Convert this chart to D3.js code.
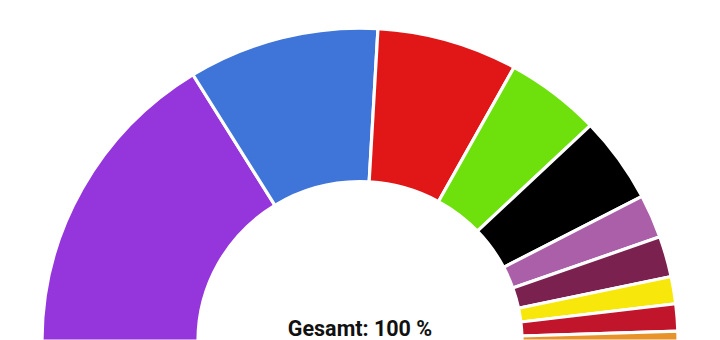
<!DOCTYPE html>
<html>
<head>
<meta charset="utf-8">
<script src="https://cdn.jsdelivr.net/npm/d3@7"></script>
<style>
  html, body { margin: 0; padding: 0; background: #fff; }
  svg { display: block; }
</style>
</head>
<body>
<svg id="chart" width="720" height="340"></svg>
<script>
// Data (shares in %)
const categories = ["Partei 1", "Partei 2", "Partei 3", "Partei 4", "Partei 5",
                    "Partei 6", "Partei 7", "Partei 8", "Partei 9", "Sonstige"];
const values = [32.4, 19.4, 14.3, 9.7, 8.9, 4.5, 4.2, 2.8, 2.8, 1.0];
const colors = ["#9535dc", "#3f74d9", "#e11616", "#6ee00c", "#000000",
                "#ab5fa8", "#7b2150", "#f7e70a", "#c0152a", "#e8932a"];
const totalLabel = "Gesamt: 100 %";

const W = 720, H = 340;
const cx = 360, cy = 341;
const outerR = 318, innerR = 162;
const yScale = 0.984;

const svg = d3.select("#chart");

const data = categories.map((c, i) => ({ name: c, value: values[i], color: colors[i] }));

const pie = d3.pie()
  .sort(null)
  .value(d => d.value)
  .startAngle(-Math.PI / 2)
  .endAngle(Math.PI / 2);

const arc = d3.arc()
  .innerRadius(innerR)
  .outerRadius(outerR);

const g = svg.append("g")
  .attr("transform", `translate(${cx},${cy}) scale(1,${yScale})`);

g.selectAll("path")
  .data(pie(data))
  .join("path")
  .attr("d", arc)
  .attr("fill", d => d.data.color)
  .attr("stroke", "#ffffff")
  .attr("stroke-width", 3.2)
  .attr("stroke-linejoin", "miter");

svg.append("text")
  .attr("x", cx)
  .attr("y", 336)
  .attr("text-anchor", "middle")
  .attr("font-family", "Roboto, 'Noto Sans', sans-serif")
  .attr("font-weight", "bold")
  .attr("font-size", 21.5)
  .attr("fill", "#111")
  .text(totalLabel);
</script>
</body>
</html>
